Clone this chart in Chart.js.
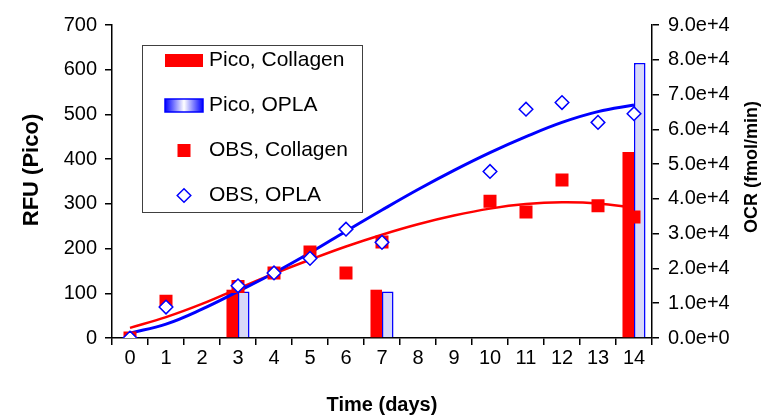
<!DOCTYPE html>
<html>
<head>
<meta charset="utf-8">
<script src="https://cdn.jsdelivr.net/npm/chart.js@4.4.1/dist/chart.umd.min.js"></script>
<style>
  html, body { margin: 0; padding: 0; background: #fff; }
</style>
</head>
<body>
<canvas id="chart" width="762" height="415"></canvas>
<script>
// categories (days) and values
const days = ['0', '1', '2', '3', '4', '5', '6', '7', '8', '9', '10', '11', '12', '13', '14'];
const picoCollagen = [null, null, null, 108, null, null, null, 108, null, null, null, null, null, null, 416];
const picoOpla = [null, null, null, 104, null, null, null, 104, null, null, null, null, null, null, 615];
const obsCollagen = [0, 10600, null, 14800, 18700, 24700, 18700, 27600, null, null, 39300, 36200, 45400, 38000, 34800];
const obsOpla = [0, 8900, null, 15000, 18700, 22900, 31300, 27500, null, null, 47900, 65800, 67700, 62000, 64500];
const fitCollagen = [2900, 6000, 9800, 14200, 18500, 22500, 26300, 29700, 32700, 35200, 37200, 38500, 39000, 38700, 37500];
const fitOpla = [1400, 4000, 8300, 13400, 18700, 24500, 30700, 36800, 42700, 48200, 53300, 57900, 62000, 65100, 67000];

const FONT = '"Liberation Sans", Arial, sans-serif';

// vertical axis titles, both reading bottom to top
const sideTitles = {
    id: 'sideTitles',
    afterDraw(chart) {
        const ctx = chart.ctx;
        const put = (text, size, x, y) => {
            ctx.save();
            ctx.translate(x, y);
            ctx.rotate(-Math.PI / 2);
            ctx.font = 'bold ' + size + 'px ' + FONT;
            ctx.fillStyle = '#000';
            ctx.textAlign = 'center';
            ctx.textBaseline = 'middle';
            ctx.fillText(text, 0, 0);
            ctx.restore();
        };
        put(chart.options.scales.y.title.text, 22, 32, 170);
        put(chart.options.scales.y1.title.text, 18, 752, 167);
    }
};

// boxed legend in the upper left of the plot
const boxLegend = {
    id: 'boxLegend',
    afterDraw(chart) {
        const {ctx, chartArea: a} = chart;
        const x0 = a.left + 30, y0 = a.top + 20, w = 220, h = 167;
        ctx.save();
        ctx.fillStyle = '#fff';
        ctx.fillRect(x0, y0, w, h);
        ctx.strokeStyle = '#404040';
        ctx.lineWidth = 1;
        ctx.strokeRect(x0 + 0.5, y0 + 0.5, w, h);
        ctx.font = '21px ' + FONT;
        ctx.textBaseline = 'middle';

        const items = chart.data.datasets.filter(d => d.label);
        items.forEach((d, i) => {
            const cy = y0 + 15.5 + i * 45;
            const sx = x0 + 23, sw = 38, cx = sx + sw / 2;
            if (d.type === 'bar') {
                if (d.borderWidth) {
                    const g = ctx.createLinearGradient(sx, 0, sx + sw, 0);
                    g.addColorStop(0, '#0000ff');
                    g.addColorStop(0.5, '#ffffff');
                    g.addColorStop(1, '#0000ff');
                    ctx.fillStyle = g;
                    ctx.fillRect(sx, cy - 6.5, sw, 13);
                    ctx.strokeStyle = d.borderColor;
                    ctx.lineWidth = 1.5;
                    ctx.strokeRect(sx, cy - 6.5, sw, 13);
                } else {
                    ctx.fillStyle = d.backgroundColor;
                    ctx.fillRect(sx, cy - 6.5, sw, 13);
                }
            } else if (d.pointStyle === 'rect') {
                ctx.fillStyle = d.pointBackgroundColor;
                ctx.fillRect(cx - 6.5, cy - 6.5, 13, 13);
            } else {
                const r = d.pointRadius;
                ctx.beginPath();
                ctx.moveTo(cx - r, cy);
                ctx.lineTo(cx, cy - r);
                ctx.lineTo(cx + r, cy);
                ctx.lineTo(cx, cy + r);
                ctx.closePath();
                ctx.fillStyle = d.pointBackgroundColor;
                ctx.fill();
                ctx.strokeStyle = d.pointBorderColor;
                ctx.lineWidth = d.pointBorderWidth;
                ctx.stroke();
            }
            ctx.fillStyle = '#000';
            ctx.textAlign = 'left';
            ctx.fillText(d.label, x0 + 67, cy);
        });
        ctx.restore();
    }
};

const axisLine = { display: true, color: '#000', width: 1.5 };
const tickFont = { family: FONT, size: 20 };

new Chart(document.getElementById('chart'), {
    data: {
        labels: days,
        datasets: [
            {
                type: 'bar',
                label: 'Pico, Collagen',
                data: picoCollagen,
                yAxisID: 'y',
                backgroundColor: '#ff0000',
                borderWidth: 0,
                order: 4
            },
            {
                type: 'bar',
                label: 'Pico, OPLA',
                data: picoOpla,
                yAxisID: 'y',
                backgroundColor: '#d8d8f8',
                borderColor: '#0000ff',
                borderWidth: 1.5,
                order: 5
            },
            {
                type: 'line',
                label: 'OBS, Collagen',
                data: obsCollagen,
                yAxisID: 'y1',
                showLine: false,
                pointStyle: 'rect',
                pointRadius: 9.2,
                pointBorderWidth: 0,
                pointBackgroundColor: '#ff0000',
                pointBorderColor: '#ff0000',
                order: 1
            },
            {
                type: 'line',
                label: 'OBS, OPLA',
                data: obsOpla,
                yAxisID: 'y1',
                showLine: false,
                pointStyle: 'rectRot',
                pointRadius: 6.8,
                pointBorderWidth: 1.5,
                pointBackgroundColor: '#ffffff',
                pointBorderColor: '#0000ff',
                order: 0
            },
            {
                type: 'line',
                data: fitCollagen,
                yAxisID: 'y1',
                borderColor: '#ff0000',
                borderWidth: 2.5,
                pointRadius: 0,
                tension: 0.4,
                order: 3
            },
            {
                type: 'line',
                data: fitOpla,
                yAxisID: 'y1',
                borderColor: '#0000ff',
                borderWidth: 3,
                pointRadius: 0,
                tension: 0.4,
                order: 2
            }
        ]
    },
    options: {
        responsive: false,
        animation: false,
        layout: { padding: { top: 25 } },
        datasets: {
            bar: { categoryPercentage: 0.64, barPercentage: 1.0 }
        },
        plugins: {
            legend: { display: false },
            tooltip: { enabled: false }
        },
        scales: {
            x: {
                type: 'category',
                offset: true,
                grid: { offset: true, drawOnChartArea: false, drawTicks: true, tickLength: 7, color: '#000', lineWidth: 1.5 },
                border: axisLine,
                ticks: { color: '#000', font: tickFont, padding: 1, maxRotation: 0, autoSkip: false },
                title: {
                    display: true,
                    text: 'Time (days)',
                    color: '#000',
                    font: { family: FONT, size: 20, weight: 'bold', lineHeight: 1 },
                    padding: { top: 0, bottom: 0 }
                },
                afterFit: (s) => { s.height = 77; }
            },
            y: {
                position: 'left',
                min: 0,
                max: 700,
                grid: { drawOnChartArea: false, drawTicks: true, tickLength: 7, color: '#000', lineWidth: 1.5 },
                border: axisLine,
                ticks: { stepSize: 100, color: '#000', font: tickFont, padding: 8 },
                title: { display: false, text: 'RFU (Pico)' },
                afterFit: (s) => { s.width = 112; }
            },
            y1: {
                position: 'right',
                min: 0,
                max: 90000,
                grid: { drawOnChartArea: false, drawTicks: true, tickLength: 7, color: '#000', lineWidth: 1.5 },
                border: axisLine,
                ticks: {
                    stepSize: 10000,
                    color: '#000',
                    font: tickFont,
                    padding: 9,
                    callback: (v) => Number(v).toExponential(1)
                },
                title: { display: false, text: 'OCR (fmol/min)' },
                afterFit: (s) => { s.width = 110; }
            }
        }
    },
    plugins: [sideTitles, boxLegend]
});
</script>
</body>
</html>
